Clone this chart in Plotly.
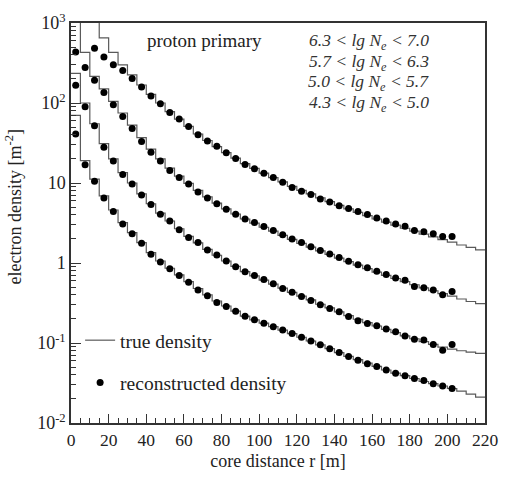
import plotly.graph_objects as go

# reconstructed density: points at 5 m bin centres
r_points = [2.5 + 5 * i for i in range(41)]
rec_1 = [1900, 1150, 483, 376, 301, 254, 203, 158, 122, 98, 76, 63, 51, 40, 33.5, 28.8, 23.8, 20.3,
         17.0, 15.1, 13.2, 11.7, 10.2, 8.8, 7.9, 7.2, 6.3, 5.8, 5.2, 4.8, 4.4, 4.05, 3.65, 3.35, 3.07,
         2.88, 2.55, 2.45, 2.32, 2.15, 2.14]
rec_2 = [433, 277, 192, 135, 95, 68, 48, 33, 24.3, 18.9, 14.3, 11.7, 9.7, 7.7, 6.5, 5.5, 4.7, 4.07,
         3.55, 3.2, 2.85, 2.55, 2.25, 2.0, 1.8, 1.6, 1.43, 1.3, 1.17, 1.05, 0.95, 0.87, 0.79, 0.72,
         0.65, 0.61, 0.51, 0.49, 0.46, 0.40, 0.44]
rec_3 = [167, 90, 52, 28, 18.9, 12.8, 9.7, 7.1, 5.4, 4.07, 3.34, 2.6, 2.08, 1.81, 1.45, 1.26, 1.06, 0.90,
         0.78, 0.70, 0.62, 0.55, 0.48, 0.43, 0.38, 0.34, 0.30, 0.27, 0.245, 0.215, 0.19, 0.175, 0.164,
         0.15, 0.138, 0.122, 0.111, 0.109, 0.096, 0.081, 0.096]
rec_4 = [41, 16.9, 10.5, 6.5, 4.4, 3.07, 2.32, 1.76, 1.29, 1.03, 0.85, 0.70, 0.575, 0.46, 0.39, 0.32,
         0.286, 0.25, 0.216, 0.195, 0.177, 0.16, 0.145, 0.131, 0.118, 0.106, 0.095, 0.085, 0.076,
         0.068, 0.061, 0.055, 0.051, 0.046, 0.042, 0.039, 0.036, 0.034, 0.031, 0.029, 0.027]

# true density: histogram with 5 m bins from 0 to 220 m (left edges)
bin_edges = [5 * i for i in range(45)]
true_1 = [5000, 2500, 1300, 650, 430, 300, 225, 168, 128, 100, 78, 63, 51, 41, 34, 28.5, 24, 20.5,
          17.5, 15.2, 13.3, 11.7, 10.3, 9.1, 8.1, 7.3, 6.5, 5.85, 5.25, 4.75, 4.3, 3.9, 3.55, 3.25,
          2.97, 2.72, 2.5, 2.3, 2.12, 1.96, 1.82, 1.68, 1.57, 1.46]
true_2 = [1500, 430, 215, 150, 105, 75, 53, 37, 26.5, 20, 15.3, 12.2, 9.9, 8.1, 6.7, 5.6, 4.75, 4.1,
          3.55, 3.15, 2.8, 2.5, 2.22, 1.97, 1.76, 1.58, 1.42, 1.28, 1.15, 1.04, 0.94, 0.85, 0.77, 0.70,
          0.64, 0.585, 0.535, 0.49, 0.45, 0.415, 0.385, 0.355, 0.33, 0.31]
true_3 = [234, 100, 55, 31, 20, 13.5, 10, 7.3, 5.5, 4.2, 3.35, 2.68, 2.15, 1.78, 1.48, 1.25, 1.06, 0.91,
          0.78, 0.69, 0.61, 0.545, 0.485, 0.43, 0.385, 0.345, 0.305, 0.275, 0.245, 0.22, 0.198, 0.18,
          0.163, 0.148, 0.135, 0.123, 0.113, 0.104, 0.096, 0.089, 0.084, 0.08, 0.077, 0.074]
true_4 = [70, 19, 11.2, 6.9, 4.6, 3.2, 2.4, 1.8, 1.35, 1.06, 0.86, 0.71, 0.585, 0.48, 0.4, 0.335, 0.29,
          0.25, 0.217, 0.195, 0.177, 0.16, 0.145, 0.131, 0.118, 0.106, 0.095, 0.085, 0.076, 0.068,
          0.062, 0.056, 0.051, 0.046, 0.042, 0.039, 0.036, 0.033, 0.031, 0.029, 0.027, 0.025, 0.023,
          0.021]

bin_labels = ["6.3 &lt; lg N<sub>e</sub> &lt; 7.0", "5.7 &lt; lg N<sub>e</sub> &lt; 6.3",
              "5.0 &lt; lg N<sub>e</sub> &lt; 5.7", "4.3 &lt; lg N<sub>e</sub> &lt; 5.0"]

x_ticks = list(range(0, 221, 20))
y_tickvals = [1e-2, 1e-1, 1, 10, 1e2, 1e3]
y_ticktext = ["10<sup>-2</sup>", "10<sup>-1</sup>", "1", "10", "10<sup>2</sup>", "10<sup>3</sup>"]

FONT = "Liberation Serif"
fig = go.Figure()

trues = [true_1, true_2, true_3, true_4]
recs = [rec_1, rec_2, rec_3, rec_4]
for i, t in enumerate(trues):
    fig.add_trace(go.Scatter(
        x=bin_edges, y=t + [t[-1]], mode="lines", line_shape="hv",
        line=dict(color="#5a5a5a", width=1.2), name="true density",
        legendgroup="true", showlegend=(i == 0), cliponaxis=True))
for i, rv in enumerate(recs):
    fig.add_trace(go.Scatter(
        x=r_points, y=rv, mode="markers",
        marker=dict(color="black", size=7), name="reconstructed density",
        legendgroup="rec", showlegend=(i == 0), cliponaxis=True))

fig.add_annotation(x=0.322, y=0.957, xref="paper", yref="paper", text="proton primary",
                   showarrow=False, xanchor="center", yanchor="middle",
                   font=dict(family=FONT, size=19, color="#222"))
for k, lab in enumerate(bin_labels):
    fig.add_annotation(x=0.87, y=0.953 - k * 0.051, xref="paper", yref="paper",
                       text="<i>" + lab + "</i>", showarrow=False, xanchor="right",
                       yanchor="middle", font=dict(family=FONT, size=17.5, color="#333"))

# y axis title placed like the reference (further left than plotly's automatic position)
fig.add_annotation(x=-0.139, y=0.54, xref="paper", yref="paper",
                   text="electron density [m<sup>-2</sup>]", textangle=-90, showarrow=False,
                   xanchor="center", yanchor="middle", font=dict(family=FONT, size=18, color="#222"))

fig.update_layout(
    width=509, height=480,
    margin=dict(l=71, r=13, t=11, b=57),
    plot_bgcolor="white", paper_bgcolor="white",
    font=dict(family=FONT, size=16, color="#222"),
    showlegend=True,
    legend=dict(x=0.022, y=0.255, xanchor="left", yanchor="top", bgcolor="rgba(0,0,0,0)",
                font=dict(family=FONT, size=19.5, color="#222"), tracegroupgap=14,
                itemwidth=30, traceorder="grouped"),
    xaxis=dict(range=[0, 220], tickvals=x_ticks, ticks="inside", ticklen=9, tickwidth=1,
               tickcolor="#333", showline=True, linecolor="#333", linewidth=1.5, mirror=True,
               showgrid=False, zeroline=False, ticklabeloverflow="allow",
               minor=dict(dtick=5, tick0=0, ticks="inside", ticklen=5, tickcolor="#333", showgrid=False),
               title=dict(text="core distance r [m]", font=dict(family=FONT, size=18), standoff=6),
               tickfont=dict(family=FONT, size=17.5)),
    yaxis=dict(type="log", range=[-2, 3], tickvals=y_tickvals, ticktext=y_ticktext,
               ticks="inside", ticklen=10, tickwidth=1, tickcolor="#333", showline=True,
               linecolor="#333", linewidth=1.5, mirror=True, showgrid=False, zeroline=False,
               minor=dict(tickvals=[m * 10 ** e for e in range(-2, 3) for m in range(2, 10)],
                          ticks="inside", ticklen=5, tickcolor="#333", showgrid=False),
               tickfont=dict(family=FONT, size=18)),
)

fig.write_html("out.html")
